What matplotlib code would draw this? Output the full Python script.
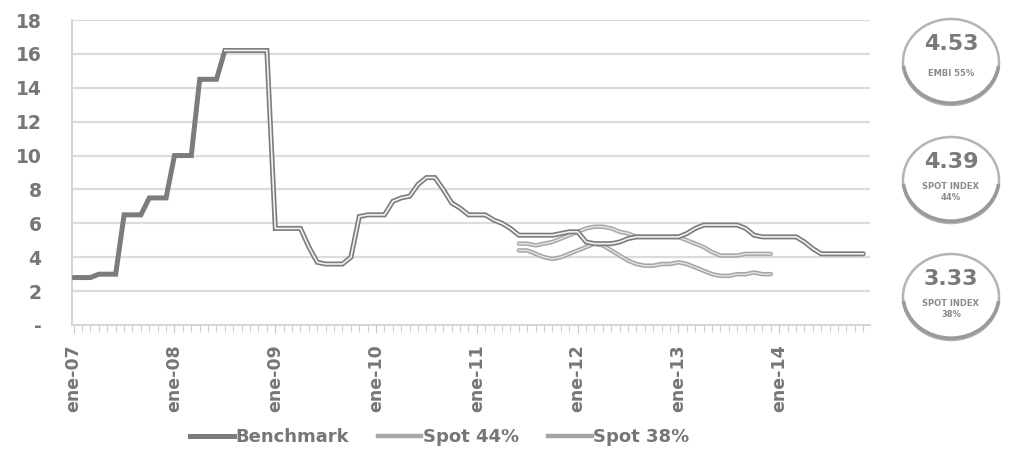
import numpy as np
import matplotlib
matplotlib.use("Agg")
import matplotlib.pyplot as plt
from matplotlib.patches import Ellipse, Arc
from matplotlib.lines import Line2D

# Monthly series, Jan-2007 onward (index 0 = ene-07)
benchmark = [
    2.8, 2.8, 2.8, 3.0, 3.0, 3.0, 6.5, 6.5, 6.5, 7.5, 7.5, 7.5,          # 2007
    10.0, 10.0, 10.0, 14.5, 14.5, 14.5, 16.2, 16.2, 16.2, 16.2, 16.2, 16.2,  # 2008
    5.7, 5.7, 5.7, 5.7, 4.6, 3.7, 3.6, 3.6, 3.6, 4.0, 6.4, 6.5,          # 2009
    6.5, 6.5, 7.3, 7.5, 7.6, 8.3, 8.7, 8.7, 8.0, 7.2, 6.9, 6.5,          # 2010
    6.5, 6.5, 6.2, 6.0, 5.7, 5.3, 5.3, 5.3, 5.3, 5.3, 5.4, 5.5,          # 2011
    5.5, 4.9, 4.8, 4.8, 4.8, 4.9, 5.1, 5.2, 5.2, 5.2, 5.2, 5.2,          # 2012
    5.2, 5.4, 5.7, 5.9, 5.9, 5.9, 5.9, 5.9, 5.7, 5.3, 5.2, 5.2,          # 2013
    5.2, 5.2, 5.2, 4.9, 4.5, 4.2, 4.2, 4.2, 4.2, 4.2, 4.2,               # 2014
]
spot_start = 53  # jun-11
spot44 = [
    4.8, 4.8, 4.7, 4.8, 4.9, 5.1, 5.3, 5.5, 5.7, 5.8, 5.8, 5.7,
    5.5, 5.4, 5.2, 5.2, 5.2, 5.2, 5.2, 5.2, 5.0, 4.8, 4.6, 4.3,
    4.1, 4.1, 4.1, 4.2, 4.2, 4.2, 4.2,
]
spot38 = [
    4.4, 4.4, 4.2, 4.0, 3.9, 4.0, 4.2, 4.4, 4.6, 4.8, 4.7, 4.4,
    4.1, 3.8, 3.6, 3.5, 3.5, 3.6, 3.6, 3.7, 3.6, 3.4, 3.2, 3.0,
    2.9, 2.9, 3.0, 3.0, 3.1, 3.0, 3.0,
]
year_labels = ["ene-07", "ene-08", "ene-09", "ene-10", "ene-11", "ene-12", "ene-13", "ene-14"]
y_ticks = [0, 2, 4, 6, 8, 10, 12, 14, 16, 18]
y_tick_labels = ["-", "2", "4", "6", "8", "10", "12", "14", "16", "18"]
legend_names = ["Benchmark", "Spot 44%", "Spot 38%"]
badge_values = ["4.53", "4.39", "3.33"]
badge_notes = ["EMBI 55%", "SPOT INDEX\n44%", "SPOT INDEX\n38%"]

plt.rcParams["font.family"] = ["DejaVu Sans"]
TXT = "#767676"

fig = plt.figure(figsize=(10.12, 4.59), dpi=100)
fig.patch.set_facecolor("white")
ax = fig.add_axes([72 / 1012, 1 - 325 / 459, (870 - 72) / 1012, (325 - 20) / 459])

mb = np.arange(len(benchmark))
ms = np.arange(spot_start, spot_start + len(spot44))

# outlined-line look: grey stroke with a pale core
ax.plot(ms, spot44, color="#a9a9a9", lw=3.2, solid_capstyle="round", zorder=3)
ax.plot(ms, spot44, color="#e4e4e4", lw=1.0, zorder=3.1)
ax.plot(ms, spot38, color="#a4a4a4", lw=3.2, solid_capstyle="round", zorder=3)
ax.plot(ms, spot38, color="#e4e4e4", lw=1.0, zorder=3.1)
ax.plot(mb, benchmark, color="#7c7c7c", lw=3.6, solid_capstyle="round",
        solid_joinstyle="miter", zorder=4)
ax.plot(mb[18:], benchmark[18:], color="#f2f2f2", lw=1.2, zorder=4.1)

ax.set_ylim(0, 18)
ax.set_xlim(-0.2, 94.8)
ax.set_yticks(y_ticks)
ax.set_yticklabels(y_tick_labels)
ax.set_xticks(np.arange(0, 12 * len(year_labels), 12))
ax.set_xticklabels(year_labels, rotation=90)
ax.set_xticks(np.arange(0, 95), minor=True)

for yv in y_ticks[1:]:
    ax.axhline(yv, color="#dcdcdc", lw=1.6, zorder=1)

for s in ["top", "right"]:
    ax.spines[s].set_visible(False)
ax.spines["left"].set_color("#d4d4d4")
ax.spines["left"].set_linewidth(1.4)
ax.spines["bottom"].set_color("#d4d4d4")
ax.spines["bottom"].set_linewidth(1.4)

ax.tick_params(axis="y", length=0, pad=22, labelsize=13.5, labelcolor=TXT)
for t in ax.get_yticklabels():
    t.set_fontweight("bold")
ax.tick_params(axis="x", which="major", length=6, color="#c8c8c8", pad=8,
               labelsize=12.5, labelcolor=TXT)
ax.tick_params(axis="x", which="minor", length=5, color="#cfcfcf", width=0.8)
for t in ax.get_xticklabels():
    t.set_fontweight("bold")

# legend
handles = [Line2D([], [], color="#7c7c7c", lw=3.6),
           Line2D([], [], color="#a9a9a9", lw=3.2),
           Line2D([], [], color="#a4a4a4", lw=3.2)]
leg = fig.legend(handles, legend_names, loc="center", ncol=3, frameon=False,
                 bbox_to_anchor=(440 / 1012, 1 - 437 / 459), handlelength=2.4,
                 handletextpad=0.1, columnspacing=1.6,
                 prop={"weight": "bold", "size": 13})
for t in leg.get_texts():
    t.set_color(TXT)

# value badges on the right
centers_y = [62, 180, 297]
for val, note, cy in zip(badge_values, badge_notes, centers_y):
    cx = 951
    fx, fy = cx / 1012, 1 - cy / 459
    w, h = 96 / 1012, 86 / 459
    fig.patches.append(Ellipse((fx, fy), w, h, transform=fig.transFigure,
                               facecolor="white", edgecolor="#b4b4b4", lw=1.8))
    fig.patches.append(Arc((fx, fy + 0.004), w, h, theta1=195, theta2=345,
                           transform=fig.transFigure, color="#9a9a9a", lw=2.6))
    fig.text(fx, fy + 18 / 459, val, ha="center", va="center", fontsize=16,
             fontweight="bold", color="#7a7a7a")
    fig.text(fx, fy - 12 / 459, note, ha="center", va="center", fontsize=6,
             fontweight="bold", color="#8a8a8a", linespacing=1.3)

fig.savefig("out.png", dpi=100, facecolor="white")
